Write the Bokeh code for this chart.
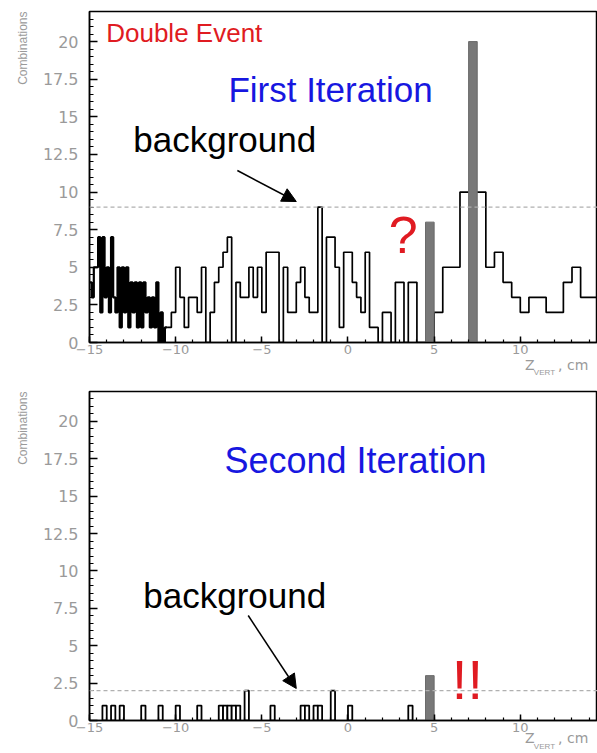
import math
from bokeh.plotting import figure
from bokeh.models import (Range1d, FixedTicker, CustomJSTickFormatter, Span, Label,
                          Arrow, NormalHead, LinearAxis, Title)
from bokeh.layouts import column
from bokeh.embed import file_html
from bokeh.resources import INLINE

# ---------------- data ----------------
# First iteration histogram: fine bins on the dense left part, then 0.25 cm bins
top_fine_start = -15.0
top_fine_width = 0.125
top_fine_values = [4, 3, 5, 5, 7, 2, 7, 3, 5, 2, 7, 3, 2, 5, 1, 5, 2, 5, 1, 4,
                   2, 4, 1, 4, 1, 4, 2, 3, 1, 3, 1, 4, 0, 2, 0, 1]
top_coarse_start = -10.5
top_coarse_width = 0.25
top_coarse_values = [1, 2, 5, 3, 1, 3, 3, 2, 5, 0, 2, 4, 5, 6, 7, 0, 4, 3, 3, 5,
                     3, 5, 2, 6, 6, 6, 0, 5, 2, 2, 4, 5, 3, 2, 2, 9, 0, 7, 7, 5,
                     1, 6, 6, 4, 3, 2, 6, 1, 1, 0, 2, 2, 0, 4, 4, 0, 4, 4, 0, 0,
                     0, 0, 2, 2, 5, 5, 5, 5, 10, 10, 10, 10, 10, 10, 5, 5, 6, 6, 4, 4,
                     3, 3, 2, 2, 3, 3, 3, 3, 2, 2, 2, 2, 4, 4, 5, 5, 3, 3, 3, 3]
top_peak_left = [4.5, 7.0]
top_peak_values = [8, 20]

# Second iteration histogram (0.25 cm bins, only non-empty bins listed)
bot_bin_width = 0.25
bot_bin_left = [-14.25, -13.75, -13.25, -12.0, -11.0, -10.0, -8.75, -7.5, -7.25, -7.0,
                -6.75, -6.5, -6.0, -4.5, -2.75, -2.5, -2.0, -1.75, -1.0, 0.0, 3.5]
bot_bin_values = [1, 1, 1, 1, 1, 1, 1, 1, 1, 1, 1, 1, 2, 1, 1, 1, 1, 1, 2, 1, 1]
bot_peak_left = [4.5]
bot_peak_values = [3]
peak_width = 0.5

background_top = 9
background_bottom = 2

x_major = [-15, -10, -5, 0, 5, 10]
x_minor = [-15, -14, -13, -12, -11, -10, -9, -8, -7, -6, -5, -4, -3, -2, -1,
           0, 1, 2, 3, 4, 5, 6, 7, 8, 9, 10, 11, 12, 13, 14]
y_major = [0, 2.5, 5, 7.5, 10, 12.5, 15, 17.5, 20]
y_minor = [0, 0.5, 1, 1.5, 2, 2.5, 3, 3.5, 4, 4.5, 5, 5.5, 6, 6.5, 7, 7.5, 8, 8.5, 9, 9.5,
           10, 10.5, 11, 11.5, 12, 12.5, 13, 13.5, 14, 14.5, 15, 15.5, 16, 16.5, 17, 17.5,
           18, 18.5, 19, 19.5, 20, 20.5, 21, 21.5, 22]

X_START, X_END = -15.0, 14.48
Y_START, Y_END = 0.0, 22.0

GRAY_TXT = "#9a9a9a"
RED = "#e01b22"
BLUE = "#1717e0"
SANS = "Liberation Sans"

# where the pieces of the x title "Z_VERT, cm" sit along the axis
Z_POS, VERT_POS, CM_POS = 10.55, 11.4, 13.2


def make_fig(frame_h, b_top, b_bottom):
    p = figure(frame_width=508, frame_height=frame_h, output_backend="svg",
               toolbar_location=None,
               x_range=Range1d(X_START, X_END), y_range=Range1d(Y_START, Y_END),
               min_border_left=89, min_border_right=0,
               min_border_top=b_top, min_border_bottom=b_bottom)
    p.xgrid.visible = False
    p.ygrid.visible = False
    p.outline_line_color = "black"
    p.outline_line_width = 1.5
    p.background_fill_color = "white"
    p.border_fill_color = "white"
    fmt = CustomJSTickFormatter(code="return String(tick).replace('-', '\\u2212');")
    for ax, maj, mnr in ((p.xaxis[0], x_major, x_minor), (p.yaxis[0], y_major, y_minor)):
        ax.ticker = FixedTicker(ticks=maj, minor_ticks=mnr)
        ax.formatter = fmt
        ax.axis_line_color = "black"
        ax.axis_line_width = 1.5
        ax.major_tick_out = 0
        ax.minor_tick_out = 0
        ax.major_tick_line_color = "black"
        ax.minor_tick_line_color = "black"
        ax.major_tick_line_width = 1.5
        ax.minor_tick_line_width = 1.2
        ax.major_label_text_color = GRAY_TXT
        ax.major_label_text_font = "DejaVu Sans"
    p.xaxis.major_tick_in = 6
    p.xaxis.minor_tick_in = 3
    p.yaxis.major_tick_in = 8
    p.yaxis.minor_tick_in = 4
    p.xaxis.major_label_text_font_size = "13px"
    p.yaxis.major_label_text_font_size = "16px"
    p.xaxis.major_label_standoff = 2
    p.yaxis.major_label_standoff = 11
    p.add_layout(Title(text="Combinations", align="right", text_font=SANS,
                       text_font_size="12px", text_font_style="normal",
                       text_color=GRAY_TXT, standoff=20), "left")
    return p


def add_x_title(p, z_standoff, vert_standoff):
    az = LinearAxis(ticker=FixedTicker(ticks=[Z_POS, CM_POS], minor_ticks=[]),
                    formatter=CustomJSTickFormatter(
                        code="return tick < %s ? 'Z' : ',  cm';" % VERT_POS),
                    axis_line_color=None, major_tick_line_color=None,
                    minor_tick_line_color=None, major_tick_in=0, major_tick_out=0,
                    minor_tick_in=0, minor_tick_out=0,
                    major_label_standoff=z_standoff, major_label_text_font="DejaVu Sans",
                    major_label_text_font_size="14px", major_label_text_color=GRAY_TXT)
    p.add_layout(az, "below")
    av = LinearAxis(ticker=FixedTicker(ticks=[VERT_POS], minor_ticks=[]),
                    formatter=CustomJSTickFormatter(code="return 'VERT';"),
                    axis_line_color=None, major_tick_line_color=None,
                    minor_tick_line_color=None, major_tick_in=0, major_tick_out=0,
                    minor_tick_in=0, minor_tick_out=0,
                    major_label_standoff=vert_standoff, major_label_text_font=SANS,
                    major_label_text_font_size="8px", major_label_text_color=GRAY_TXT)
    p.add_layout(av, "below")


def note(p, x, y, text, size, color, align="left"):
    # y is the baseline of the text; the offset lifts the rendered glyphs onto it
    p.add_layout(Label(x=x, y=y, y_offset=round(0.37 * size), text=text, text_font=SANS,
                       text_font_size="%dpx" % size, text_color=color, text_align=align,
                       text_baseline="alphabetic"))


# ---------------- top panel ----------------
p1 = make_fig(331, 11, 38)

n_fine = len(top_fine_values)
xs_fine = [top_fine_start + top_fine_width * i for i in range(n_fine + 1)]
ys_fine = top_fine_values + [top_fine_values[-1]]
xs_coarse = [top_coarse_start + top_coarse_width * j for j in range(len(top_coarse_values) + 1)]
ys_coarse = top_coarse_values + [top_coarse_values[-1]]
p1.step(xs_fine, ys_fine, mode="after", line_color="black", line_width=2.2)
p1.step([xs_fine[-1], xs_coarse[0]], [top_fine_values[-1], top_coarse_values[0]],
        mode="before", line_color="black", line_width=1.7)
p1.step(xs_coarse, ys_coarse, mode="after", line_color="black", line_width=1.7)
p1.quad(left=top_peak_left, right=[v + peak_width for v in top_peak_left],
        bottom=0, top=top_peak_values, fill_color="#787878", line_color="#6a6a6a",
        line_width=1)
p1.add_layout(Span(location=background_top, dimension="width", line_color="#b0b0b0",
                   line_dash="4 3", line_width=1.3))

note(p1, -14.03, 19.9, "Double Event", 26, RED)
note(p1, -6.94, 15.97, "First Iteration", 35, BLUE)
note(p1, -12.46, 12.62, "background", 35, "black")
p1.add_layout(Arrow(end=NormalHead(size=14, fill_color="black", line_color="black"),
                    x_start=-6.42, y_start=11.43, x_end=-3.0, y_end=9.37,
                    line_color="black", line_width=1.5))
note(p1, 3.2, 5.9, "?", 52, RED, "center")
add_x_title(p1, 0, -8)

# ---------------- bottom panel ----------------
p2 = make_fig(329, 11, 33)
p2.quad(left=bot_bin_left, right=[v + bot_bin_width for v in bot_bin_left],
        bottom=0, top=bot_bin_values, fill_color="white", line_color="black",
        line_width=1.8)
p2.quad(left=bot_peak_left, right=[v + peak_width for v in bot_peak_left],
        bottom=0, top=bot_peak_values, fill_color="#787878", line_color="#6a6a6a",
        line_width=1)
p2.add_layout(Span(location=background_bottom, dimension="width", line_color="#b0b0b0",
                   line_dash="4 3", line_width=1.3))
note(p2, -7.17, 16.5, "Second Iteration", 36, BLUE)
note(p2, -11.88, 7.5, "background", 35, "black")
p2.add_layout(Arrow(end=NormalHead(size=14, fill_color="black", line_color="black"),
                    x_start=-5.79, y_start=7.02, x_end=-3.0, y_end=2.14,
                    line_color="black", line_width=1.5))
note(p2, 6.93, 1.34, "!!", 56, RED, "center")
add_x_title(p2, -5, -7)

layout = column(p1, p2)
open("out.html", "w").write(file_html(layout, INLINE))
